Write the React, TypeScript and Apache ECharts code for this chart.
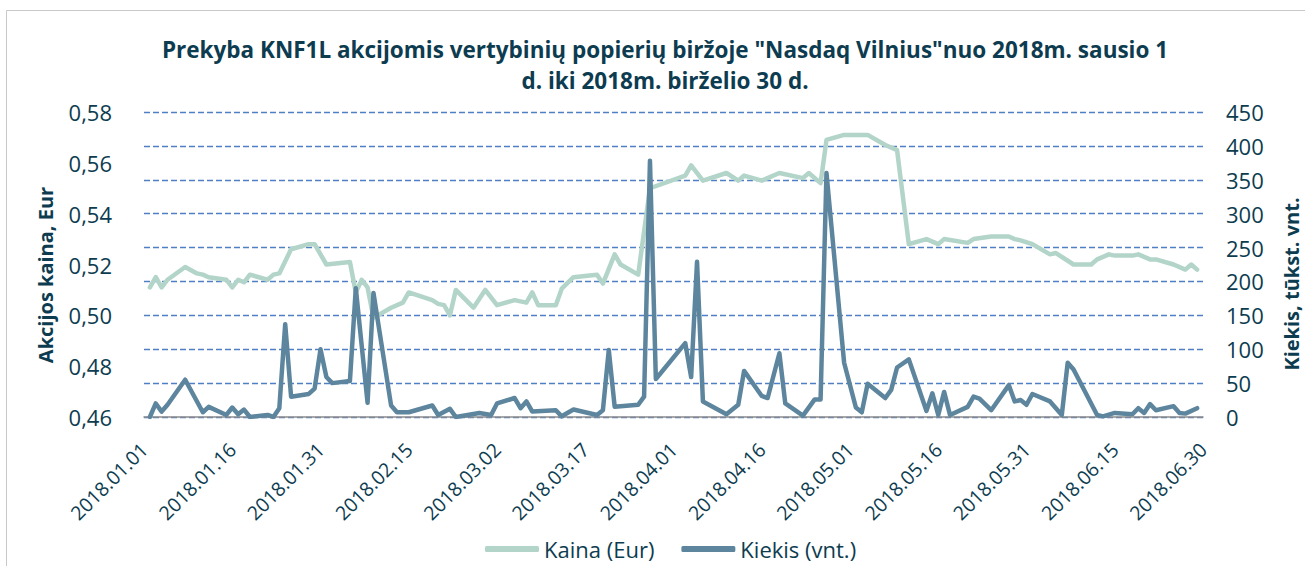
import React, { useEffect, useRef } from 'react';
import * as echarts from 'echarts';

const titleLines = [
  'Prekyba KNF1L akcijomis vertybinių popierių biržoje "Nasdaq Vilnius"nuo 2018m. sausio 1',
  'd. iki 2018m. birželio 30 d.',
];
const leftAxisName = 'Akcijos kaina, Eur';
const rightAxisName = 'Kiekis, tūkst. vnt.';
const seriesNames = ['Kaina (Eur)', 'Kiekis (vnt.)'];

// Kaina (Eur) – price, 2018 dates (MM-DD)
const priceDates = [
  '01-02', '01-03', '01-04', '01-05', '01-08', '01-10', '01-11', '01-12', '01-15', '01-16',
  '01-17', '01-18', '01-19', '01-22', '01-23', '01-24', '01-26', '01-29', '01-30', '02-01',
  '02-05', '02-06', '02-07', '02-08', '02-09', '02-12', '02-14', '02-15', '02-19', '02-20',
  '02-21', '02-22', '02-23', '02-26', '02-28', '03-02', '03-05', '03-07', '03-08', '03-09',
  '03-12', '03-13', '03-15', '03-19', '03-20', '03-22', '03-23', '03-26', '03-28', '04-03',
  '04-04', '04-06', '04-10', '04-12', '04-13', '04-16', '04-19', '04-23', '04-24', '04-26',
  '04-27', '04-30', '05-04', '05-07', '05-09', '05-11', '05-14', '05-16', '05-17', '05-21',
  '05-22', '05-25', '05-28', '05-29', '05-30', '06-01', '06-04', '06-05', '06-08', '06-11',
  '06-12', '06-14', '06-15', '06-18', '06-19', '06-21', '06-22', '06-25', '06-27', '06-28',
  '06-29',
];
const priceValues = [
  0.511, 0.515, 0.511, 0.514, 0.519, 0.5165, 0.516, 0.515, 0.514, 0.511,
  0.514, 0.513, 0.516, 0.514, 0.516, 0.5165, 0.526, 0.528, 0.528, 0.520,
  0.521, 0.509, 0.514, 0.511, 0.499, 0.503, 0.505, 0.509, 0.506, 0.5045,
  0.504, 0.500, 0.510, 0.503, 0.510, 0.504, 0.506, 0.505, 0.509, 0.504,
  0.504, 0.5105, 0.515, 0.516, 0.5125, 0.524, 0.520, 0.516, 0.550, 0.555,
  0.559, 0.553, 0.556, 0.553, 0.555, 0.553, 0.556, 0.554, 0.556, 0.552,
  0.569, 0.571, 0.571, 0.567, 0.565, 0.528, 0.530, 0.528, 0.530, 0.5285,
  0.530, 0.531, 0.531, 0.530, 0.5295, 0.528, 0.524, 0.5245, 0.520, 0.520,
  0.522, 0.524, 0.5235, 0.5235, 0.524, 0.522, 0.522, 0.520, 0.518, 0.520,
  0.518,
];

// Kiekis (tūkst. vnt.) – volume
const volumeDates = [
  '01-02', '01-03', '01-04', '01-05', '01-08', '01-11', '01-12', '01-15', '01-16', '01-17',
  '01-18', '01-19', '01-22', '01-23', '01-24', '01-25', '01-26', '01-29', '01-30', '01-31',
  '02-01', '02-02', '02-05', '02-06', '02-08', '02-09', '02-12', '02-13', '02-15', '02-19',
  '02-20', '02-22', '02-23', '02-27', '03-01', '03-02', '03-05', '03-06', '03-07', '03-08',
  '03-12', '03-13', '03-15', '03-19', '03-20', '03-21', '03-22', '03-26', '03-27', '03-28',
  '03-29', '04-03', '04-04', '04-05', '04-06', '04-10', '04-12', '04-13', '04-16', '04-17',
  '04-19', '04-20', '04-23', '04-25', '04-26', '04-27', '04-30', '05-02', '05-03', '05-04',
  '05-07', '05-08', '05-09', '05-11', '05-14', '05-15', '05-16', '05-17', '05-18', '05-21',
  '05-22', '05-23', '05-25', '05-28', '05-29', '05-30', '05-31', '06-01', '06-04', '06-06',
  '06-07', '06-08', '06-12', '06-13', '06-15', '06-18', '06-19', '06-20', '06-21', '06-22',
  '06-25', '06-26', '06-27', '06-29',
];
const volumeValues = [
  0, 20, 8, 18, 55, 7, 15, 3, 14, 4,
  11, 0, 3, 0, 13, 137, 30, 34, 42, 100,
  59, 50, 53, 190, 21, 183, 17, 7, 7, 17,
  3, 12, 0, 6, 3, 20, 28, 13, 23, 8,
  10, 1, 11, 3, 10, 99, 15, 18, 30, 378,
  56, 109, 59, 229, 23, 4, 18, 68, 31, 28,
  94, 20, 2, 26, 26, 360, 80, 14, 7, 49,
  28, 40, 73, 85, 9, 35, 3, 37, 3, 15,
  30, 27, 10, 47, 23, 25, 18, 34, 23, 3,
  80, 70, 3, 1, 6, 4, 13, 6, 19, 10,
  16, 6, 5, 13,
];

const DAY = 86400000;
const START = Date.UTC(2018, 0, 1);
const dayIndex = (md: string) => {
  const [m, d] = md.split('-').map(Number);
  return Math.round((Date.UTC(2018, m - 1, d) - START) / DAY);
};
const pad = (n: number) => (n < 10 ? '0' + n : '' + n);
const fmtDay = (v: number) => {
  const dt = new Date(START + v * DAY);
  return `${dt.getUTCFullYear()}.${pad(dt.getUTCMonth() + 1)}.${pad(dt.getUTCDate())}`;
};

const TEXT = '#0d3c50';
const FONT = '"Open Sans", "Noto Sans", sans-serif';
const PRICE_COLOR = '#b2d4c9';
const VOLUME_COLOR = '#5d869e';

export default function App() {
  const ref = useRef<HTMLDivElement>(null);
  useEffect(() => {
    if (!ref.current) return;
    const chart = echarts.init(ref.current, undefined, { renderer: 'svg' });
    chart.setOption({
      animation: false,
      backgroundColor: '#ffffff',
      textStyle: { fontFamily: FONT },
      title: {
        text: titleLines.join('\n'),
        left: 660,
        top: 29,
        textAlign: 'center',
        textStyle: { fontFamily: FONT, fontWeight: 'bold', fontSize: 22.5, color: TEXT, lineHeight: 31 },
      },
      graphic: [
        {
          type: 'rect',
          silent: true,
          z: -10,
          shape: { x: 6.5, y: 10.5, width: 1400, height: 800 },
          style: { fill: 'none', stroke: '#c8c8c8', lineWidth: 1 },
        },
        {
          type: 'text',
          x: 45,
          y: 275,
          rotation: Math.PI / 2,
          style: {
            text: leftAxisName,
            font: `bold 20px ${FONT}`,
            fill: TEXT,
            textAlign: 'center',
            textVerticalAlign: 'middle',
          },
        },
        {
          type: 'text',
          x: 1291,
          y: 284,
          rotation: Math.PI / 2,
          style: {
            text: rightAxisName,
            font: `bold 20px ${FONT}`,
            fill: TEXT,
            textAlign: 'center',
            textVerticalAlign: 'middle',
          },
        },
      ],
      legend: {
        left: 480,
        top: 533,
        icon: 'roundRect',
        itemWidth: 54,
        itemHeight: 6,
        itemGap: 27,
        textStyle: { fontFamily: FONT, fontSize: 22, color: TEXT },
        data: seriesNames,
      },
      grid: { left: 144, right: 102, top: 112, bottom: 149 },
      xAxis: {
        type: 'value',
        min: 0,
        max: 180,
        interval: 15,
        axisLine: { show: true, lineStyle: { color: '#8c8c8c', width: 1.5 } },
        axisTick: { show: false },
        splitLine: { show: false },
        axisLabel: {
          rotate: 45,
          margin: 29,
          fontSize: 19.5,
          fontFamily: FONT,
          color: TEXT,
          formatter: (v: number) => fmtDay(v),
        },
      },
      yAxis: [
        {
          type: 'value',
          position: 'left',
          min: 0.46,
          max: 0.58,
          interval: 0.02,
          axisLine: { show: false },
          axisTick: { show: false },
          splitLine: { show: false },
          axisLabel: {
            margin: 32,
            fontSize: 22,
            fontFamily: FONT,
            color: TEXT,
            formatter: (v: number) => v.toFixed(2).replace('.', ','),
          },
        },
        {
          type: 'value',
          position: 'right',
          min: 0,
          max: 450,
          interval: 50,
          axisLine: { show: false },
          axisTick: { show: false },
          splitLine: { show: true, lineStyle: { color: '#4f7fc4', width: 1.4, type: [6, 3] } },
          axisLabel: { margin: 23, fontSize: 22, fontFamily: FONT, color: TEXT },
        },
      ],
      series: [
        {
          name: seriesNames[0],
          type: 'line',
          yAxisIndex: 0,
          symbol: 'none',
          showSymbol: false,
          itemStyle: { color: PRICE_COLOR },
          lineStyle: { color: PRICE_COLOR, width: 4.5, cap: 'round', join: 'round' },
          data: priceDates.map((d, i) => [dayIndex(d), priceValues[i]]),
        },
        {
          name: seriesNames[1],
          type: 'line',
          yAxisIndex: 1,
          symbol: 'none',
          showSymbol: false,
          itemStyle: { color: VOLUME_COLOR },
          lineStyle: { color: VOLUME_COLOR, width: 4.5, cap: 'round', join: 'round' },
          data: volumeDates.map((d, i) => [dayIndex(d), volumeValues[i]]),
        },
      ],
    });
    return () => chart.dispose();
  }, []);
  return (
    <div
      ref={ref}
      style={{ position: 'absolute', left: 0, top: 0, width: 1305, height: 566 }}
    />
  );
}
